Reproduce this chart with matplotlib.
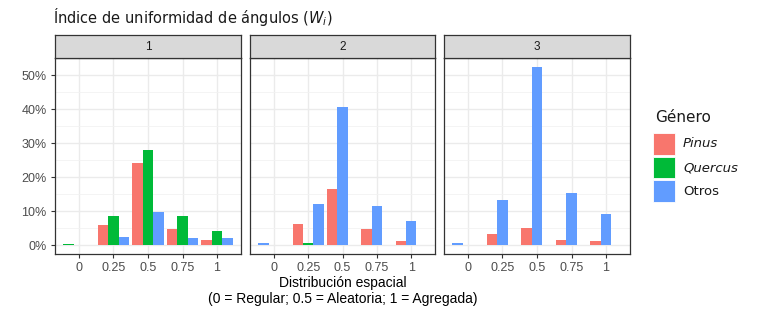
import numpy as np
import matplotlib
matplotlib.use("Agg")
import matplotlib.pyplot as plt
from matplotlib.patches import Rectangle
from matplotlib.ticker import FuncFormatter, MultipleLocator

# ========================================================= #
# ===  data                                             === #
# ========================================================= #
x_values   = [ 0.0, 0.25, 0.5, 0.75, 1.0 ]
x_labels   = [ "0", "0.25", "0.5", "0.75", "1" ]
panels     = [ "1", "2", "3" ]
generos    = [ "Pinus", "Quercus", "Otros" ]
colors     = [ "#F8766D", "#00BA38", "#619CFF" ]

# percentages per panel, per genero (None = absent)
pinus   = [ [ None, 6.0, 24.1, 4.7, 1.6 ],
            [ None, 6.2, 16.5, 4.6, 1.3 ],
            [ None, 3.4,  4.9, 1.5, 1.2 ] ]
quercus = [ [ 0.3,  8.5, 28.0, 8.5, 4.0 ],
            [ None, 0.7, None, None, None ],
            [ None, None, None, None, None ] ]
otros   = [ [ None, 2.4,  9.6, 2.0, 2.0 ],
            [ 0.7, 12.2, 40.5, 11.6, 7.2 ],
            [ 0.6, 13.3, 52.4, 15.2, 9.0 ] ]
series  = [ pinus, quercus, otros ]

# ========================================================= #
# ===  figure                                           === #
# ========================================================= #
W, H   = 757, 315
fig    = plt.figure( figsize=(W/100, H/100), dpi=100 )
plt.rcParams["font.family"] = [ "Liberation Sans", "DejaVu Sans" ]

def px_axes( x0, y0, x1, y1 ):
    return fig.add_axes( [ x0/W, 1-y1/H, (x1-x0)/W, (y1-y0)/H ] )

panel_x   = [ (55, 241), (250, 435), (444, 630) ]
top, bot  = 58, 254
strip_top = 35

step   = 0.25
bw     = step * 0.9 / 3
ymax   = 52.4
for ip, (x0, x1) in enumerate( panel_x ):
    ax = px_axes( x0, top, x1, bot )
    ax.set_facecolor( "white" )
    for ix, xv in enumerate( x_values ):
        present = [ ig for ig in range(3) if series[ig][ip][ix] is not None ]
        for slot, ig in enumerate( present ):
            xc = xv - 0.9*step/2 + bw*(slot+0.5)
            ax.bar( xc, series[ig][ip][ix], width=bw, color=colors[ig],
                    edgecolor="none", zorder=3 )
    xlo, xhi = x_values[0] - 0.9*step/2, x_values[-1] + 0.9*step/2
    xpad = (xhi - xlo) * 0.05
    ax.set_xlim( xlo - xpad, xhi + xpad )
    ax.set_ylim( -ymax*0.05, ymax*1.05 )
    ax.set_xticks( x_values )
    ax.set_xticklabels( x_labels )
    ax.yaxis.set_major_locator( MultipleLocator(10) )
    ax.yaxis.set_minor_locator( MultipleLocator(5) )
    ax.yaxis.set_major_formatter( FuncFormatter( lambda v, p: f"{v:.0f}%" ) )
    ax.grid( which="major", color="#EBEBEB", lw=1.0, zorder=0 )
    ax.grid( which="minor", axis="y", color="#F2F2F2", lw=0.6, zorder=0 )
    ax.tick_params( which="major", length=3, width=0.8, color="#333333",
                    labelsize=9, labelcolor="#4D4D4D", pad=3 )
    ax.tick_params( which="minor", length=0 )
    if ip > 0:
        ax.tick_params( axis="y", labelleft=False, length=0 )
    for s in ax.spines.values():
        s.set_color( "#333333" ); s.set_linewidth( 0.9 )

    # strip
    st = px_axes( x0, strip_top, x1, top )
    st.set_facecolor( "#D9D9D9" )
    st.set_xticks( [] ); st.set_yticks( [] )
    for s in st.spines.values():
        s.set_color( "#333333" ); s.set_linewidth( 0.9 )
    st.text( 0.5, 0.5, panels[ip], ha="center", va="center",
             fontsize=8.5, color="#1A1A1A", transform=st.transAxes )

# titles
fig.text( 53/W, 1-17/H, r"Índice de uniformidad de ángulos ($W_i$)",
          family="DejaVu Sans", fontsize=10.5, ha="left", va="center",
          color="#1A1A1A" )
fig.text( 343/W, 1-283/H, "Distribución espacial", fontsize=10,
          ha="center", va="center" )
fig.text( 343/W, 1-299/H, "(0 = Regular; 0.5 = Aleatoria; 1 = Agregada)",
          fontsize=10, ha="center", va="center" )

# legend (drawn by hand, ggplot style)
fig.text( 655/W, 1-118/H, "Género", family="DejaVu Sans", fontsize=11,
          ha="left", va="center", color="#1A1A1A" )
for ig, (lab, c) in enumerate( zip( generos, colors ) ):
    ytop = 133 + ig*23.7
    fig.add_artist( Rectangle( (653/W, 1-(ytop+21.5)/H), 21.5/W, 21.5/H,
                               transform=fig.transFigure, facecolor=c,
                               edgecolor="white", lw=0.6 ) )
    fig.text( 683/W, 1-(ytop+11)/H, lab, family="DejaVu Sans", fontsize=9.5,
              ha="left", va="center", color="#1A1A1A",
              style="italic" if lab != "Otros" else "normal" )

fig.savefig( "out.png", dpi=100 )
